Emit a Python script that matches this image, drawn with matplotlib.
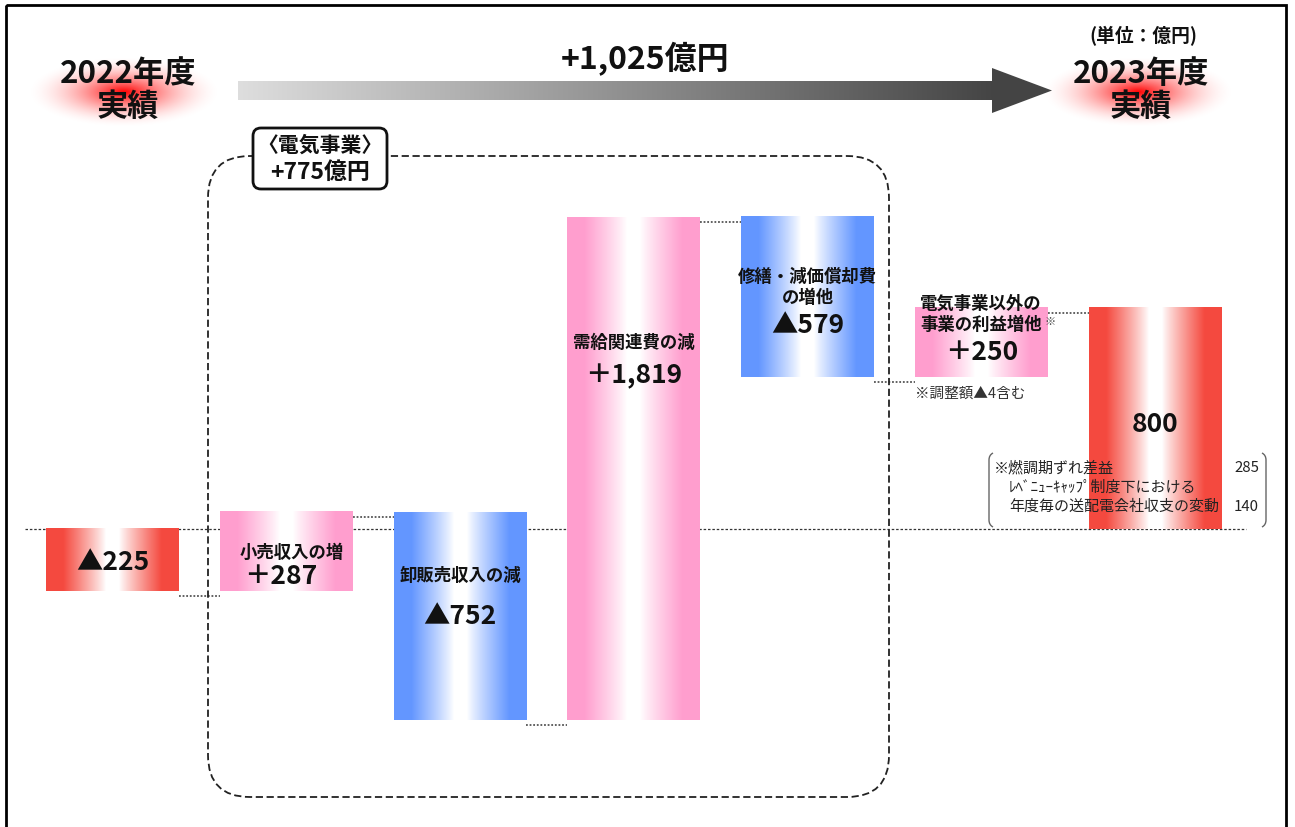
import numpy as np
import matplotlib
matplotlib.use('Agg')
import matplotlib.pyplot as plt
import matplotlib.transforms as mtransforms
from matplotlib.patches import FancyBboxPatch, Polygon, Rectangle, PathPatch
from matplotlib.path import Path

plt.rcParams['font.family'] = ['Noto Sans CJK JP', 'DejaVu Sans']

# ---------------- data ----------------
categories = ['2022年度実績', '小売収入の増', '卸販売収入の減', '需給関連費の減',
              '修繕・減価償却費の増他', '電気事業以外の事業の利益増他', '2023年度実績']
values = [-225, 287, -752, 1819, -579, 250, 800]
kinds = ['total', 'delta', 'delta', 'delta', 'delta', 'delta', 'total']
value_labels = ['▲225', '＋287', '▲752', '＋1,819', '▲579', '＋250', '800']
bar_titles = [[], ['小売収入の増'], ['卸販売収入の減'], ['需給関連費の減'],
              ['修繕・減価償却費', 'の増他'], ['電気事業以外の', '事業の利益増他'], []]
total_change = '+1,025億円'
segment_label = ['〈電気事業〉', '+775億円']
start_title = ['2022年度', '実績']
end_title = ['2023年度', '実績']
unit_label = '(単位：億円)'
note_adjust = '※調整額▲4含む'
note_lines = ['※燃調期ずれ差益', 'ﾚﾍﾞﾆｭｰｷｬｯﾌﾟ制度下における', '年度毎の送配電会社収支の変動']
note_values = ['285', '', '140']

# ---------------- layout ----------------
W, H = 1295, 827
Y0, S = 529.0, 0.2765          # zero line pixel, pixels per unit
X0, DX = 112.5, 173.75          # first bar centre, bar spacing (pixels)
BW = 0.765

RED = (0.96, 0.29, 0.25)
PINK = (1.0, 0.62, 0.81)
BLUE = (0.39, 0.59, 1.0)

fig = plt.figure(figsize=(W / 100, H / 100), dpi=100)
ax = fig.add_axes([0, 0, 1, 1])
ax.set_xlim(-X0 / DX, (W - X0) / DX)
ax.set_ylim((Y0 - H) / S, Y0 / S)
ax.axis('off')

pax = fig.add_axes([0, 0, 1, 1], zorder=2)
pax.set_xlim(0, W)
pax.set_ylim(H, 0)
pax.axis('off')
pax.patch.set_alpha(0)


def u(ypx):
    return (Y0 - ypx) / S


def grad_img(rgb):
    t = np.linspace(0, 1, 256)
    w = np.clip((np.abs(t - 0.5) - 0.05) / 0.32, 0, 1) ** 0.9
    img = np.ones((1, 256, 3))
    for k in range(3):
        img[0, :, k] = 1 - w * (1 - rgb[k])
    return img


# waterfall geometry from data
bottoms, tops, levels = [], [], []
running = 0
for v, k in zip(values, kinds):
    if k == 'total':
        b, t = 0, v
        running = v
    else:
        b, t = running, running + v
        running += v
    bottoms.append(b)
    tops.append(t)
    levels.append(running)

for i, (b, t, v, k) in enumerate(zip(bottoms, tops, values, kinds)):
    col = RED if k == 'total' else (PINK if v > 0 else BLUE)
    ax.imshow(grad_img(col), extent=[i - BW / 2, i + BW / 2, min(b, t), max(b, t)],
              aspect='auto', interpolation='bilinear', zorder=2)
ax.set_xlim(-X0 / DX, (W - X0) / DX)
ax.set_ylim((Y0 - H) / S, Y0 / S)

# connectors
off = mtransforms.offset_copy(ax.transData, fig=fig, y=-5, units='dots')
for i in range(len(values) - 1):
    ax.plot([i + BW / 2, i + 1 - BW / 2], [levels[i], levels[i]], transform=off,
            color='#555555', lw=1.3, ls=(0, (1, 1)), zorder=3)

# zero line
ax.axhline(0, xmin=25 / W, xmax=1246 / W, color='#333333', lw=0.9,
           ls=(0, (2, 1.5)), zorder=1)

# bar texts
tkw = dict(ha='center', va='center', fontweight='bold', color='#111111', zorder=5)
val_y = [562, 577, 617, 376, 325, 352, 424]
val_dx = [0, -6, 0, 0, 0, 0, 0]
for i, lab in enumerate(value_labels):
    ax.text(i + val_dx[i] / DX, u(val_y[i]), lab, fontsize=19, **tkw)
title_y = [[], [553], [576], [343], [277, 298], [304, 325], []]
for i, lines in enumerate(bar_titles):
    for ln, yy in zip(lines, title_y[i]):
        ax.text(i + (5 / DX if i == 1 else 0), u(yy), ln, fontsize=12.5, **tkw)
ax.text(5 + 63 / DX, u(322), '※', fontsize=8, ha='left', va='center', color='#444444')
ax.text(5 - 66 / DX, u(394), note_adjust, fontsize=10.5, ha='left', va='center', color='#333333')

# footnote block
fx = [994, 1009, 1009]
fy = [468, 488, 507]
for ln, val, xx, yy in zip(note_lines, note_values, fx, fy):
    pax.text(xx, yy, ln, fontsize=10.8, ha='left', va='center', color='#222222', zorder=6)
    if val:
        pax.text(1259, yy, val, fontsize=10.8, ha='right', va='center', color='#222222', zorder=6)
for x0, d in [(989, -1), (1266, 1)]:
    verts = [(x0 - d * 4, 453), (x0, 455), (x0, 460), (x0, 520), (x0, 525), (x0 - d * 4, 527)]
    codes = [Path.MOVETO, Path.CURVE3, Path.CURVE3, Path.LINETO, Path.CURVE3, Path.CURVE3]
    pax.add_patch(PathPatch(Path(verts, codes), fc='none', ec='#666666', lw=1.0, zorder=6))

# glows behind titles
def glow(cx, cy, a, b):
    xs = np.linspace(-1, 1, 300)
    ys = np.linspace(-1, 1, 150)
    X, Y = np.meshgrid(xs, ys)
    r = np.sqrt(X ** 2 + Y ** 2)
    img = np.zeros((150, 300, 4))
    img[..., 0] = 1.0
    img[..., 1] = 0.0
    img[..., 2] = 0.0
    img[..., 3] = np.clip(1 - r, 0, 1) ** 1.8
    pax.imshow(img, extent=[cx - a, cx + a, cy + b, cy - b], aspect='auto',
               interpolation='bilinear', zorder=1)

glow(124, 92, 98, 36)
glow(1138, 92, 98, 36)

hkw = dict(ha='center', va='center', fontweight='bold', color='#111111', zorder=4)
pax.text(128, 74, start_title[0], fontsize=22.5, **hkw)
pax.text(128, 107, start_title[1], fontsize=22.5, **hkw)
pax.text(1141, 74, end_title[0], fontsize=22.5, **hkw)
pax.text(1141, 107, end_title[1], fontsize=22.5, **hkw)
pax.text(1143, 36, unit_label, fontsize=13.5, **hkw)
pax.text(645, 59, total_change, fontsize=23, **hkw)

# big gradient arrow
g = np.linspace(0.87, 0.27, 400)
arr = np.stack([g, g, g], axis=-1)[None, :, :]
pax.imshow(arr, extent=[238, 993, 100, 81], aspect='auto', interpolation='bilinear', zorder=2)
pax.add_patch(Polygon([(992, 68), (1052, 90.5), (992, 113)], closed=True,
                      fc='#444444', ec='none', zorder=2))

# dashed rounded region box
pax.add_patch(FancyBboxPatch((208, 156), 681, 641,
                             boxstyle='round,pad=0,rounding_size=42',
                             fc='none', ec='#222222', lw=1.3, ls=(0, (4, 2)), zorder=2))
pax.add_patch(FancyBboxPatch((253, 128), 134, 61,
                             boxstyle='round,pad=0,rounding_size=8',
                             fc='white', ec='#111111', lw=2, zorder=3))
pax.text(320, 145, segment_label[0], fontsize=15, **hkw)
pax.text(320, 172, segment_label[1], fontsize=16.5, **hkw)

pax.set_xlim(0, W)
pax.set_ylim(H, 0)

# outer frame
pax.add_patch(Rectangle((6, 5), 1280, 840, fc='none', ec='black', lw=2, zorder=10,
                        clip_on=False))

fig.savefig('out.png', dpi=100)
